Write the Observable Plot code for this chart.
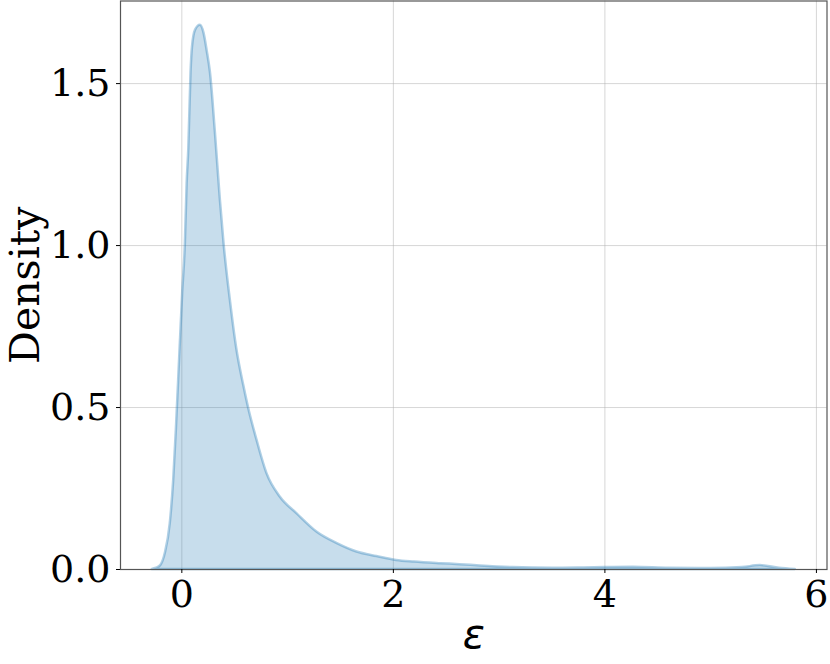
<!DOCTYPE html>
<html><head><meta charset="utf-8">
<script src="https://cdn.jsdelivr.net/npm/d3@7"></script>
<script src="https://cdn.jsdelivr.net/npm/@observablehq/plot@0.6"></script>
<style>body{margin:0;background:#fff}</style>
</head><body><div id="chart"></div>
<script>
const epsilon = [-0.28, -0.24, -0.2, -0.156, -0.11, -0.077, -0.052, -0.03, 0.008, 0.033, 0.05, 0.066, 0.087, 0.10, 0.13, 0.175, 0.21, 0.24, 0.27, 0.317, 0.364, 0.40, 0.458, 0.52, 0.584, 0.63, 0.71, 0.805, 0.93, 1.09, 1.28, 1.47, 1.656, 1.845, 2.03, 2.2, 2.45, 2.63, 2.82, 3.13, 3.5, 3.8, 4.0, 4.27, 4.6, 5.0, 5.3, 5.47, 5.65, 5.8];
const density = [0, 0.004, 0.012, 0.05, 0.14, 0.275, 0.43, 0.585, 0.854, 1.003, 1.19, 1.30, 1.535, 1.61, 1.665, 1.68, 1.655, 1.60, 1.535, 1.35, 1.142, 1.003, 0.833, 0.68, 0.57, 0.50, 0.40, 0.296, 0.224, 0.172, 0.115, 0.080, 0.054, 0.040, 0.028, 0.023, 0.018, 0.015, 0.011, 0.006, 0.004, 0.005, 0.006, 0.007, 0.004, 0.003, 0.006, 0.012, 0.004, 0];
const xTicks = [0, 2, 4, 6];
const yTicks = [0, 0.5, 1.0, 1.5];
const xLabel = "ε";
const yLabel = "Density";

const data = epsilon.map((e, i) => ({e, d: density[i]}));

const chart = Plot.plot({
  width: 830, height: 664,
  marginLeft: 120, marginRight: 3.5, marginTop: 0.5, marginBottom: 95,
  x: {domain: [-0.58, 6.1]},
  y: {domain: [0, 1.755]},
  style: {background: "#fff", color: "black"},
  marks: [
    Plot.gridX(xTicks, {stroke: "#b0b0b0", strokeOpacity: 0.5, strokeWidth: 1}),
    Plot.gridY(yTicks, {stroke: "#b0b0b0", strokeOpacity: 0.5, strokeWidth: 1}),
    Plot.areaY(data, {x: "e", y: "d", curve: "monotone-x", fill: "#1f77b4", fillOpacity: 0.25,
      stroke: "#1f77b4", strokeOpacity: 0.35, strokeWidth: 2.5}),
    Plot.frame({stroke: "#555", strokeWidth: 1.2}),
    Plot.axisX(xTicks, {tickSize: 4, tickPadding: 7, fontSize: 38, fontFamily: "DejaVu Serif",
      label: null, tickFormat: d => String(d)}),
    Plot.axisY(yTicks, {tickSize: 4, tickPadding: 6, fontSize: 38, fontFamily: "DejaVu Serif",
      label: null, tickFormat: d => d.toFixed(1)}),
    Plot.text([xLabel], {frameAnchor: "bottom", dy: 78, fontSize: 41, fontFamily: "DejaVu Sans",
      fontStyle: "italic", fill: "black", text: d => d}),
    Plot.text([yLabel], {frameAnchor: "left", textAnchor: "middle", rotate: -90, dx: -95, fontSize: 41,
      fontFamily: "DejaVu Serif", fill: "black", text: d => d})
  ]
});
document.getElementById("chart").append(chart);
</script>
</body></html>
